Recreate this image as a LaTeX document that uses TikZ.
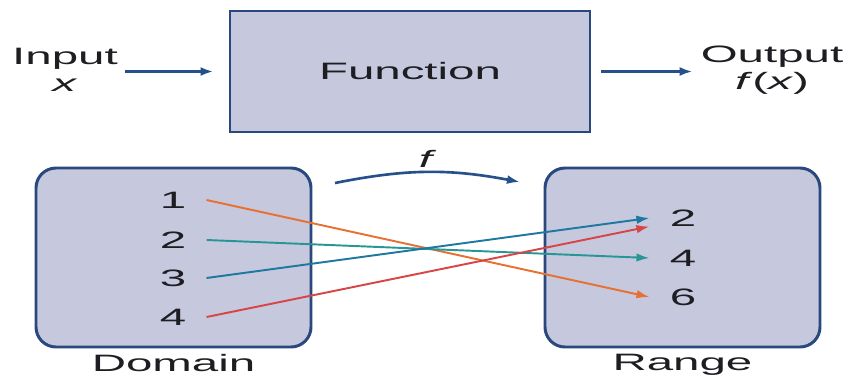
\documentclass[tikz,border=0pt]{standalone}
\usepackage{fontspec}
\setmainfont[FakeStretch=2]{Liberation Sans}
\usepackage{tikz}
\usetikzlibrary{arrows.meta,positioning}
\definecolor{boxfill}{RGB}{198,200,222}
\definecolor{navy}{RGB}{41,72,125}
\definecolor{fblue}{RGB}{37,80,140}
\definecolor{ink}{RGB}{30,30,34}
\definecolor{maporange}{RGB}{232,112,50}
\definecolor{mapteal}{RGB}{40,150,150}
\definecolor{mapblue}{RGB}{30,120,160}
\definecolor{mapred}{RGB}{215,70,70}
\tikzset{
  txt/.style={font=\fontsize{13.5}{15.5}\selectfont, text=ink, align=center, inner sep=3pt},
  fbox/.style={txt, draw=navy, line width=1.7pt, fill=boxfill, minimum width=7.2cm, minimum height=2.42cm},
  set/.style={draw=navy, line width=1.7pt, fill=boxfill, rounded corners=0.4cm, minimum width=5.5cm, minimum height=3.58cm},
  num/.style={txt, inner xsep=0.4cm},
  arr/.style={-{Latex[length=2.6mm,width=1.8mm]}, line width=1.5pt, fblue},
  map/.style={-{Latex[length=2.6mm,width=1.7mm]}, line width=1.1pt},
}

\begin{document}
\begin{tikzpicture}
\useasboundingbox (0,0) rectangle (17.02,7.52);
% top row
\node[fbox] (fn) at (8.2,6.09) {Function};
\node[txt] (input) at (1.3,6.12) {Input\\\textit{x}};
\node[txt] (output) at (15.44,6.12) {Output\\\textit{f}(\textit{x})};
\draw[arr, shorten <=0.04cm, shorten >=0.3cm] (input.east |- fn.west) -- (fn.west);
\draw[arr, shorten <=0.2cm, shorten >=0.05cm] (fn.east) -- (fn.east -| output.west);
% domain and range
\node[set] (dom) at (3.47,2.37) {};
\node[set] (ran) at (13.65,2.37) {};
\node[txt, below=0pt of dom] (domlbl) {Domain};
\node[txt, below=0pt of ran] (ranlbl) {Range};
\node[num] (d1) at (3.46,3.52) {1};
\node[num] (d2) at (3.46,2.72) {2};
\node[num] (d3) at (3.46,1.96) {3};
\node[num] (d4) at (3.46,1.18) {4};
\node[num] (r2) at (13.66,3.16) {2};
\node[num] (r4) at (13.66,2.36) {4};
\node[num] (r6) at (13.66,1.58) {6};
\coordinate (fa) at (6.7,3.86);
\coordinate (fb) at (10.4,3.88);
\draw[arr] (fa) to[bend left=11] node[txt, above=-1pt] (flbl) {\textit{f}} (fb);
\draw[map, maporange] (d1.east) -- (r6.west);
\draw[map, mapteal] (d2.east) -- (r4.west);
\draw[map, mapblue] (d3.east) -- (r2.west);
\draw[map, mapred] (d4.east) -- ([yshift=-0.17cm]r2.west);
\end{tikzpicture}
\end{document}
